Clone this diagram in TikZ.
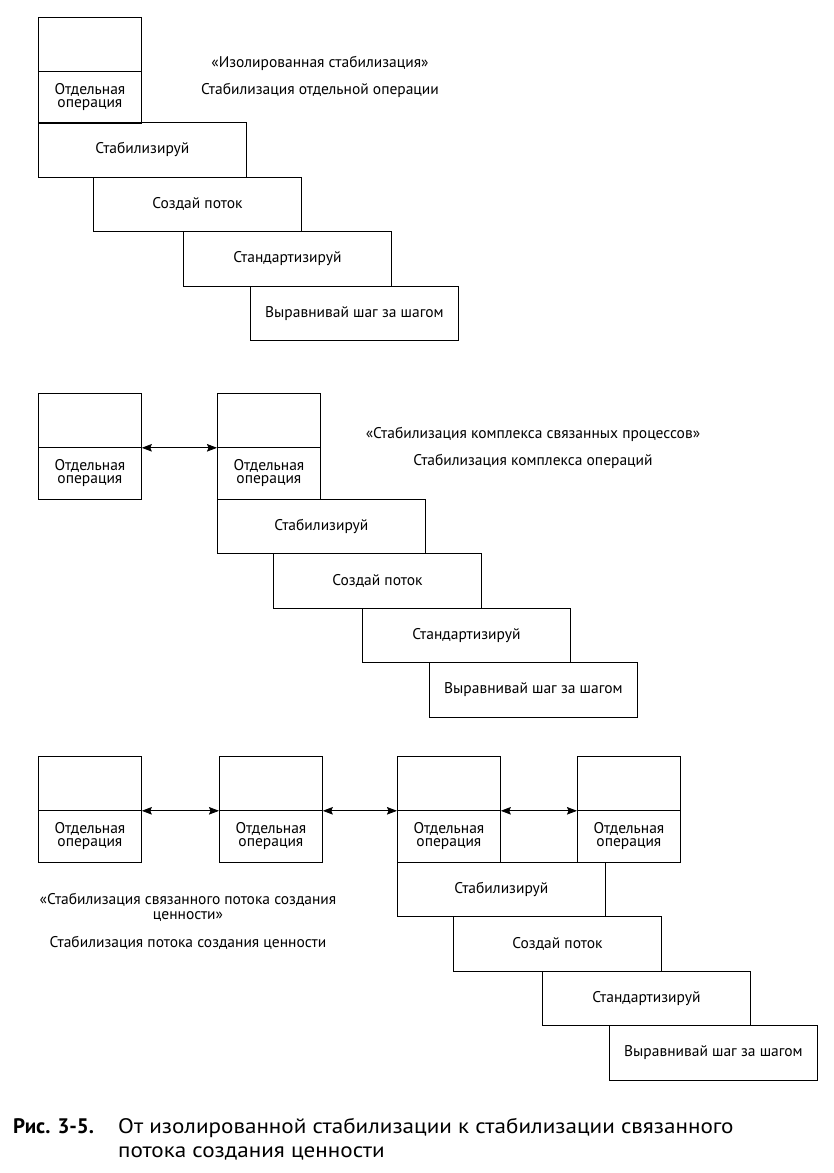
\documentclass[tikz,border=0pt]{standalone}
\usepackage{fontspec}
\setmainfont{PT Sans}
\newfontfamily\capfont[FakeStretch=1.1]{PT Sans}
\usetikzlibrary{arrows.meta}
\begin{document}
\begin{tikzpicture}[x=1pt,y=-1pt,
  box/.style={draw,line width=0.8pt,rectangle,inner sep=0pt,anchor=north west},
  optop/.style={box,minimum width=103pt,minimum height=54pt},
  opbot/.style={box,minimum width=103pt,minimum height=51.5pt,align=center,font=\fontsize{15.5}{13.5}\selectfont},
  stepbox/.style={box,minimum width=208pt,minimum height=54.5pt,font=\fontsize{15.5}{13.5}\selectfont},
  lbl/.style={align=center,inner sep=0pt,font=\fontsize{15.5}{14.5}\selectfont},
  link/.style={line width=0.8pt,{Stealth[length=10pt,width=7.5pt,inset=1.5pt]}-{Stealth[length=10pt,width=7.5pt,inset=1.5pt]}},
  captext/.style={inner sep=0pt,anchor=base west,font=\capfont\fontsize{21}{24}\selectfont}
]
\useasboundingbox[fill=white] (0,0) rectangle (834,1173);

% ---- section 1
\node[optop] (a1t) at (38,17) {};
\node[opbot] (a1b) at (38,71) {Отдельная\\операция};
\node[stepbox] (s1a) at (38,122) {Стабилизируй};
\node[stepbox] (s1b) at (93,176.5) {Создай поток};
\node[stepbox] (s1c) at (183,231) {Стандартизируй};
\node[stepbox] (s1d) at (250,285.5) {Выравнивай шаг за шагом};
\node[lbl] (t1a) at (320,63) {«Изолированная стабилизация»};
\node[lbl] (t1b) at (320,90) {Стабилизация отдельной операции};

% ---- section 2
\node[optop] (b1t) at (38,393) {};
\node[opbot] (b1b) at (38,447) {Отдельная\\операция};
\node[optop] (b2t) at (217,393) {};
\node[opbot] (b2b) at (217,447) {Отдельная\\операция};
\draw[link] (b1t.south east) -- (b2t.south west);
\node[stepbox] (s2a) at (217,498.5) {Стабилизируй};
\node[stepbox] (s2b) at (273,553) {Создай поток};
\node[stepbox] (s2c) at (362,607.5) {Стандартизируй};
\node[stepbox] (s2d) at (429,662) {Выравнивай шаг за шагом};
\node[lbl] (t2a) at (533,434) {«Стабилизация комплекса связанных процессов»};
\node[lbl] (t2b) at (533,461) {Стабилизация комплекса операций};

% ---- section 3
\node[optop] (c1t) at (38,756) {};
\node[opbot] (c1b) at (38,810) {Отдельная\\операция};
\node[optop] (c2t) at (219,756) {};
\node[opbot] (c2b) at (219,810) {Отдельная\\операция};
\node[optop] (c3t) at (397,756) {};
\node[opbot] (c3b) at (397,810) {Отдельная\\операция};
\node[optop] (c4t) at (577,756) {};
\node[opbot] (c4b) at (577,810) {Отдельная\\операция};
\draw[link] (c1t.south east) -- (c2t.south west);
\draw[link] (c2t.south east) -- (c3t.south west);
\draw[link] (c3t.south east) -- (c4t.south west);
\node[stepbox] (s3a) at (397,861.5) {Стабилизируй};
\node[stepbox] (s3b) at (453,916) {Создай поток};
\node[stepbox] (s3c) at (542,970.5) {Стандартизируй};
\node[stepbox] (s3d) at (609,1025) {Выравнивай шаг за шагом};
\node[lbl] (t3a) at (188,907.5) {«Стабилизация связанного потока создания\\ценности»};
\node[lbl] (t3b) at (188,943) {Стабилизация потока создания ценности};

% ---- caption
\node[captext,font=\fontsize{21}{24}\selectfont] (cap1) at (13,1133) {\textbf{Рис. 3-5.}};
\node[captext] (cap2) at (118,1133) {От изолированной стабилизации к стабилизации связанного};
\node[captext] (cap3) at (118,1157) {потока создания ценности};
\end{tikzpicture}
\end{document}
